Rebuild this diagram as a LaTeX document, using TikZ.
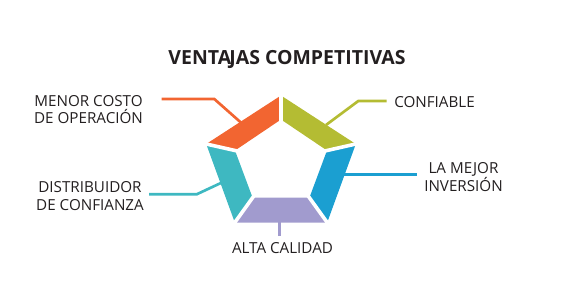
\documentclass[tikz,border=0pt]{standalone}
\usepackage{fontspec}
\setmainfont{Open Sans}
\definecolor{segorange}{RGB}{242,101,49}
\definecolor{segolive}{RGB}{180,188,51}
\definecolor{segblue}{RGB}{27,159,209}
\definecolor{segpurple}{RGB}{161,155,206}
\definecolor{segteal}{RGB}{62,184,193}
\definecolor{textgray}{RGB}{35,31,32}
\usetikzlibrary{calc}
\tikzset{
	advlabel/.style={text=textgray, align=center, inner sep=0pt, font=\fontsize{11.4}{13.3}\selectfont},
	headtext/.style={text=textgray, inner sep=0pt, font=\bfseries\fontsize{14.6}{16}\selectfont},
	leader/.style={line width=2pt},
	gapline/.style={white, line width=2.7pt},
}

\begin{document}
\begin{tikzpicture}[x=0.75pt,y=0.75pt,yscale=-1,xscale=1]
		\useasboundingbox (0,0) rectangle (570,292);
		
		%Corners: outer pentagon
		\coordinate (o1) at (281,95.5);
		\coordinate (o2) at (355.8,144);
		\coordinate (o3) at (327.2,222.5);
		\coordinate (o4) at (234.8,222.5);
		\coordinate (o5) at (206.2,144);
		%Corners: inner pentagon
		\coordinate (i1) at (281,119.5);
		\coordinate (i2) at (327,150.5);
		\coordinate (i3) at (309.4,197.7);
		\coordinate (i4) at (252.6,197.7);
		\coordinate (i5) at (235,150.5);
		
		% Text Node
		\node [headtext] (title) at (287,59) {VENTA\kern-1.3pt JAS COMPETITIVAS};
		% Text Node
		\node [advlabel] (menor) at (88.5,109.5) {MENOR COSTO\\DE OPERACIÓN};
		% Text Node
		\node [advlabel] (confiable) at (434.5,102.3) {CONFIABLE};
		% Text Node
		\node [advlabel] (mejor) at (463.5,176.7) {LA MEJOR\\INVERSIÓN};
		% Text Node
		\node [advlabel] (calidad) at (282.5,248.3) {ALTA CALIDAD};
		% Text Node
		\node [advlabel] (distrib) at (90,195.8) {DISTRIBUIDOR\\DE CONFIANZA};
		
		%Leader ends
		\coordinate (menor-a) at (161.7,99);
		\coordinate (menor-b) at (214.3,99);
		\coordinate (menor-c) at (242,123.5);
		\coordinate (confiable-a) at (386.7,101);
		\coordinate (confiable-b) at (358.3,101);
		\coordinate (confiable-c) at (326,125);
		\coordinate (mejor-a) at (416.7,174.5);
		\coordinate (mejor-c) at (342,174.5);
		\coordinate (calidad-a) at (279.5,236);
		\coordinate (calidad-c) at (279.5,218);
		\coordinate (distrib-a) at (149,194.3);
		\coordinate (distrib-b) at (196.7,194.3);
		\coordinate (distrib-c) at (223,182);
		
		%Straight Lines
		\draw [leader, segorange] (menor-a) -- (menor-b) -- (menor-c);
		\draw [leader, segolive] (confiable-a) -- (confiable-b) -- (confiable-c);
		\draw [leader, segblue] (mejor-a) -- (mejor-c);
		\draw [leader, segpurple] (calidad-a) -- (calidad-c);
		\draw [leader, segteal] (distrib-a) -- (distrib-b) -- (distrib-c);
		
		%Shape: ring segments
		\fill [segorange] (o5) -- (o1) -- (i1) -- (i5) -- cycle;
		\fill [segolive] (o1) -- (o2) -- (i2) -- (i1) -- cycle;
		\fill [segblue] (o2) -- (o3) -- (i3) -- (i2) -- cycle;
		\fill [segpurple] (o3) -- (o4) -- (i4) -- (i3) -- cycle;
		\fill [segteal] (o4) -- (o5) -- (i5) -- (i4) -- cycle;
		%Gaps between segments
		\foreach \k in {1,...,5}
			\draw [gapline] ($(i\k)!-0.3!(o\k)$) -- ($(o\k)!-0.15!(i\k)$);
		
\end{tikzpicture}
\end{document}
